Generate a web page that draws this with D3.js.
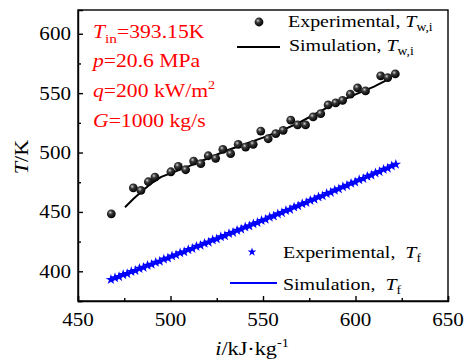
<!DOCTYPE html>
<html>
<head>
<meta charset="utf-8">
<script src="https://cdn.jsdelivr.net/npm/d3@7"></script>
<style>
  body { margin: 0; background: #fff; }
  svg { display: block; font-family: "Liberation Serif", "Times New Roman", serif; }
</style>
</head>
<body>
<svg id="chart" width="466" height="363"></svg>
<script>
// Experimental inner-wall temperature T_w,i (K) vs enthalpy i (kJ/kg)
const expWallI = [468.0, 479.9, 484.0, 488.0, 491.6, 500.2, 504.2, 508.2, 512.5, 516.4, 520.4, 524.4,
  528.3, 532.5, 536.6, 540.6, 544.7, 548.8, 552.8, 556.9, 560.9, 565.0, 568.7, 573.0, 577.1, 581.2,
  585.2, 589.3, 593.0, 597.2, 601.1, 605.4, 613.6, 617.4, 621.5];
const expWallT = [448.4, 470.3, 468.1, 475.4, 479.3, 483.8, 488.4, 485.5, 492.8, 490.6, 497.3, 495.1,
  502.7, 499.0, 506.9, 504.6, 506.9, 518.1, 511.6, 515.9, 518.7, 527.2, 523.2, 523.2, 530.0, 532.7,
  540.1, 541.8, 543.9, 549.1, 554.4, 551.9, 564.6, 563.1, 566.2];

// Simulated inner-wall temperature
const simWallI = [475.4, 480, 485, 490, 495, 500, 510, 520, 530, 540, 550, 560, 570, 580, 590, 600, 610, 619.5];
const simWallT = [454.0, 461.0, 468.0, 474.5, 479.5, 482.5, 488.5, 495.0, 501.5, 507.0, 512.5, 518.5,
  525.5, 534.0, 542.0, 549.0, 555.5, 563.0];

// Experimental fluid temperature T_f
const expFluidI = [467.8, 470.0, 472.2, 474.4, 476.6, 478.8, 481.0, 483.2, 485.4, 487.6, 489.8, 492.0,
  494.2, 496.4, 498.6, 500.8, 503.0, 505.2, 507.4, 509.6, 511.8, 514.0, 516.2, 518.4, 520.6, 522.8,
  525.0, 527.2, 529.4, 531.6, 533.8, 536.0, 538.2, 540.4, 542.6, 544.8, 547.0, 549.2, 551.4, 553.6,
  555.8, 558.0, 560.2, 562.4, 564.6, 566.8, 569.0, 571.2, 573.4, 575.6, 577.8, 580.0, 582.2, 584.4,
  586.6, 588.8, 591.0, 593.2, 595.4, 597.6, 599.8, 602.0, 604.2, 606.4, 608.6, 610.8, 613.0, 615.2,
  617.4, 619.6, 621.8];
const expFluidT = [393.0, 394.5, 395.4, 397.1, 398.0, 399.7, 400.6, 402.3, 403.2, 404.9, 405.8, 407.5,
  408.4, 410.2, 411.1, 412.8, 413.8, 415.5, 416.4, 418.2, 419.1, 420.9, 421.8, 423.5, 424.5, 426.3,
  427.2, 429.0, 429.9, 431.7, 432.7, 434.4, 435.4, 437.2, 438.1, 439.9, 441.0, 442.7, 443.7, 445.5,
  446.5, 448.3, 449.3, 451.1, 452.1, 454.0, 455.0, 456.8, 457.8, 459.6, 460.7, 462.5, 463.5, 465.4,
  466.4, 468.2, 469.3, 471.1, 472.2, 474.0, 475.1, 477.0, 478.0, 479.9, 480.9, 482.8, 483.8, 485.7,
  486.8, 488.7, 490.0];

// Simulated fluid temperature
const simFluidI = [467.8, 490, 510, 530, 550, 570, 590, 610, 622];
const simFluidT = [393.0, 406.1, 418.2, 430.5, 443.0, 455.8, 468.8, 482.1, 490.1];

const xTicks = [450, 500, 550, 600, 650];
const xMinor = [475, 525, 575, 625];
const yTicks = [400, 450, 500, 550, 600];
const yMinor = [375, 425, 475, 525, 575];

const SX = 1.14; // horizontal text stretch
const svg = d3.select("#chart");
const L = 78, R = 448, T = 10, B = 301;
const x = d3.scaleLinear().domain([450, 650]).range([L, R]);
const y = d3.scaleLinear().domain([375, 620]).range([B, T]);

// sphere shading for wall markers
const defs = svg.append("defs");
const grad = defs.append("radialGradient").attr("id", "ball").attr("cx", "38%").attr("cy", "35%").attr("r", "65%");
grad.append("stop").attr("offset", "0%").attr("stop-color", "#d0d0d0");
grad.append("stop").attr("offset", "35%").attr("stop-color", "#3a3a3a");
grad.append("stop").attr("offset", "100%").attr("stop-color", "#000");

// axes with inward ticks
const axisStyle = g => { g.selectAll("path,line").attr("stroke", "#000").attr("stroke-width", 1.4); };
svg.append("g").attr("transform", `translate(0,${B})`)
  .call(d3.axisBottom(x).tickValues(xTicks).tickSize(-5).tickFormat("")).call(axisStyle);
svg.append("g").attr("transform", `translate(0,${B})`)
  .call(d3.axisBottom(x).tickValues(xMinor).tickSize(-3).tickFormat("")).call(axisStyle)
  .select(".domain").remove();
svg.append("g").attr("transform", `translate(${L},0)`)
  .call(d3.axisLeft(y).tickValues(yTicks).tickSize(-5).tickFormat("")).call(axisStyle);
svg.append("g").attr("transform", `translate(${L},0)`)
  .call(d3.axisLeft(y).tickValues(yMinor).tickSize(-3).tickFormat("")).call(axisStyle)
  .select(".domain").remove();
svg.append("rect").attr("x", L).attr("y", T).attr("width", R - L).attr("height", B - T)
  .attr("fill", "none").attr("stroke", "#000").attr("stroke-width", 1.4);

function txt(px, py, anchor, size, color) {
  return svg.append("text")
    .attr("transform", `translate(${px},${py}) scale(${SX},1)`)
    .attr("text-anchor", anchor).attr("font-size", size).attr("fill", color || "#000");
}

// tick labels
xTicks.forEach(v => txt(x(v), 326, "middle", 18.5).text(v));
yTicks.forEach(v => txt(71, y(v) + 6.5, "end", 18.5).text(v));

// axis titles
const yt = svg.append("text").attr("transform", `translate(28,157) rotate(-90) scale(${SX},1)`)
  .attr("text-anchor", "middle").attr("font-size", 19.5);
yt.append("tspan").attr("font-style", "italic").text("T");
yt.append("tspan").text("/K");
const xt = txt(252, 355, "middle", 19.5);
xt.append("tspan").attr("font-style", "italic").text("i");
xt.append("tspan").text("/kJ·kg");
xt.append("tspan").attr("dy", -8).attr("font-size", 12.5).text("-1");

// curves
const line = d3.line().x(d => x(d[0])).y(d => y(d[1]));
svg.append("path").datum(d3.zip(simFluidI, simFluidT)).attr("d", line)
  .attr("fill", "none").attr("stroke", "#0000ff").attr("stroke-width", 2);
svg.append("path").datum(d3.zip(simWallI, simWallT)).attr("d", line)
  .attr("fill", "none").attr("stroke", "#000").attr("stroke-width", 2);

const star = d3.symbol(d3.symbolStar, 34);
svg.append("g").selectAll("path").data(d3.zip(expFluidI, expFluidT)).join("path")
  .attr("d", star).attr("transform", d => `translate(${x(d[0])},${y(d[1])})`)
  .attr("fill", "#0000ff");

svg.append("g").selectAll("circle").data(d3.zip(expWallI, expWallT)).join("circle")
  .attr("cx", d => x(d[0])).attr("cy", d => y(d[1])).attr("r", 4.4)
  .attr("fill", "url(#ball)");

// condition annotations
const red = "#ff0000";
const a1 = txt(93, 38, "start", 19, red);
a1.append("tspan").attr("font-style", "italic").text("T");
a1.append("tspan").attr("dy", 5).attr("font-size", 13.5).text("in");
a1.append("tspan").attr("dy", -5).text("=393.15K");
const a2 = txt(93, 67, "start", 19, red);
a2.append("tspan").attr("font-style", "italic").text("p");
a2.append("tspan").text("=20.6 MPa");
const a3 = txt(93, 97, "start", 19, red);
a3.append("tspan").attr("font-style", "italic").text("q");
a3.append("tspan").text("=200 kW/m");
a3.append("tspan").attr("dy", -8).attr("font-size", 12.5).text("2");
const a4 = txt(93, 127, "start", 19, red);
a4.append("tspan").attr("font-style", "italic").text("G");
a4.append("tspan").text("=1000 kg/s");

// legend: wall temperature
svg.append("circle").attr("cx", 259).attr("cy", 22).attr("r", 4.4).attr("fill", "url(#ball)");
const l1 = txt(288, 27, "start", 17.5);
l1.append("tspan").text("Experimental, ");
l1.append("tspan").attr("font-style", "italic").text("T");
l1.append("tspan").attr("dy", 4).attr("font-size", 12).text("w,i");
svg.append("line").attr("x1", 237).attr("x2", 280).attr("y1", 47).attr("y2", 47)
  .attr("stroke", "#000").attr("stroke-width", 2);
const l2 = txt(289, 51, "start", 17.5);
l2.append("tspan").text("Simulation, ");
l2.append("tspan").attr("font-style", "italic").text("T");
l2.append("tspan").attr("dy", 4).attr("font-size", 12).text("w,i");

// legend: fluid temperature
svg.append("path").attr("d", d3.symbol(d3.symbolStar, 24)).attr("transform", "translate(252,252)")
  .attr("fill", "#0000ff");
const l3 = txt(283, 258, "start", 17.5);
l3.append("tspan").text("Experimental,\u2002");
l3.append("tspan").attr("font-style", "italic").text("T");
l3.append("tspan").attr("dy", 4).attr("font-size", 12).text("f");
svg.append("line").attr("x1", 230).attr("x2", 277).attr("y1", 283).attr("y2", 283)
  .attr("stroke", "#0000ff").attr("stroke-width", 2);
const l4 = txt(283, 290, "start", 17.5);
l4.append("tspan").text("Simulation,\u2002");
l4.append("tspan").attr("font-style", "italic").text("T");
l4.append("tspan").attr("dy", 4).attr("font-size", 12).text("f");
</script>
</body>
</html>
